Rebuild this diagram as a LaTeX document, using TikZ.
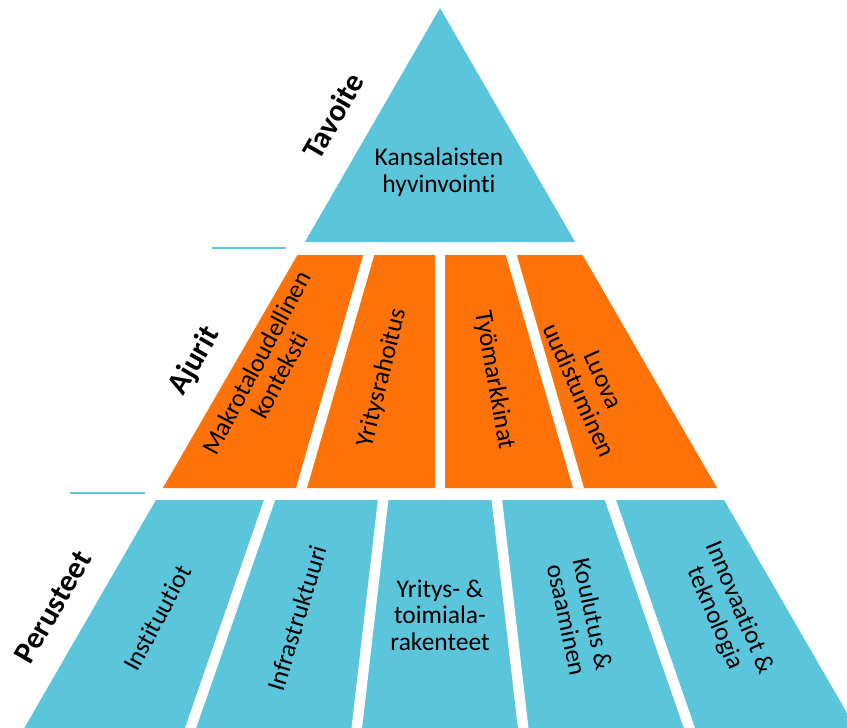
\documentclass[tikz,border=0pt]{standalone}
\usepackage{fontspec}
\setmainfont{Carlito}[Ligatures=NoCommon]
\usetikzlibrary{calc}
\definecolor{pblue}{RGB}{91,197,219}
\definecolor{porange}{RGB}{253,115,10}
\begin{document}
\begin{tikzpicture}[x=1pt,y=-1pt,
  lbl/.style={font=\fontsize{31}{34}\selectfont\bfseries, text=black, inner sep=0pt},
  txt/.style={font=\fontsize{25.5}{26.5}\selectfont, align=center, text=black, inner sep=0pt},
  gap/.style={white, line width=10.5pt},
  rule/.style={pblue, line width=2pt}]
\useasboundingbox (0,0) rectangle (847,728);
\clip (0,0) rectangle (847,728);
\coordinate (A) at (440,8);
% top triangle
\fill[pblue] (A) -- (575.1,242) -- (304.9,242) -- cycle;
% thin rules
\coordinate (r1a) at (212,248); \coordinate (r1b) at (286,248);
\coordinate (r2a) at (70,493);  \coordinate (r2b) at (145,493);
\draw[rule] (r1a) -- (r1b);
\draw[rule] (r2a) -- (r2b);
% middle band
\begin{scope}
  \clip (297.4,255) -- (582.6,255) -- (717.1,488) -- (162.9,488) -- cycle;
  \fill[porange] (0,0) rectangle (847,728);
  \foreach \x in {301.5,440,578.5}
    \draw[gap] (A) -- ($(A)!1.1!(\x,488)$);
\end{scope}
% bottom band
\begin{scope}
  \clip (155.9,500) -- (724.1,500) -- (862.6,740) -- (17.4,740) -- cycle;
  \fill[pblue] (0,0) rectangle (900,760);
  \foreach \x in {190.6,356.8,523.2,689.4}
    \draw[gap] (A) -- ($(A)!1.1!(\x,728)$);
\end{scope}
% labels
\node[lbl, rotate=60] (tavoite) at (333,116) {Tavoite};
\node[lbl, rotate=60] (ajurit) at (195,361) {Ajurit};
\node[lbl, rotate=60] (perusteet) at (53,607) {Perusteet};
% texts
\node[txt] (kansa) at (439,172) {Kansalaisten\\hyvinvointi};
\node[txt, rotate=62] (makro) at (268,369) {Makrotaloudellinen\\konteksti};
\node[txt, rotate=76] (yritysr) at (382,378) {Yritysrahoitus};
\node[txt, rotate=-80] (tyom) at (494,380) {Työmarkkinat};
\node[txt, rotate=-66] (luova) at (591,385) {Luova\\uudistuminen};
\node[txt, rotate=61.5] (inst) at (157,618) {Instituutiot};
\node[txt, rotate=73] (infra) at (297,618) {Infrastruktuuri};
\node[txt] (yrit) at (440,615) {Yritys- \&\\toimiala-\\rakenteet};
\node[txt, rotate=-78] (koul) at (580,617) {Koulutus \&\\osaaminen};
\node[txt, rotate=-67] (innov) at (727,613) {Innovaatiot \&\\teknologia};
\end{tikzpicture}
\end{document}
